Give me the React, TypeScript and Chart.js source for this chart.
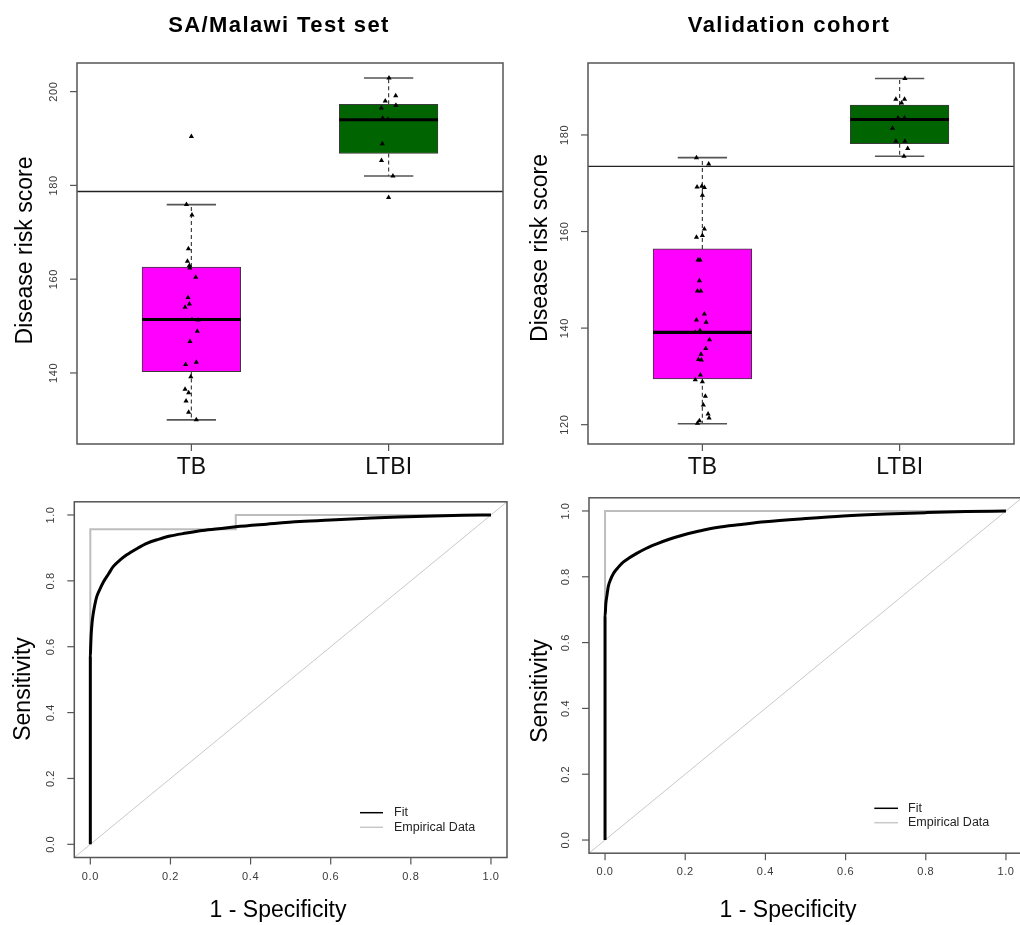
import React, { useEffect, useRef } from 'react';
import { Chart, registerables } from 'chart.js';

Chart.register(...registerables);

// ---------------- DATA ----------------
const categories = ['TB', 'LTBI'];
const categoryPositions = [1, 2];
const boxColors = ['#FF00FF', '#006400'];

// SA/Malawi Test set (box plot)
const testLowerWhisker = [130.0, 182.0];
const testQ1 = [140.3, 186.8];
const testMedian = [151.4, 194.0];
const testQ3 = [162.6, 197.3];
const testUpperWhisker = [175.9, 202.9];
const testCutoff = 178.7;
const testYTicks = [140, 160, 180, 200];
const testTBScores = [190.4, 175.9, 173.7, 166.5, 163.8, 162.9, 162.4, 160.4, 156.1, 154.7, 154.0, 151.4, 151.3, 148.9, 146.7, 141.8, 142.3, 139.2, 136.5, 135.8, 134.0, 131.6, 130.0];
const testTBJitter = [0.0, -0.025, 0.003, -0.015, -0.02, -0.01, -0.008, 0.022, -0.017, -0.01, -0.032, 0.003, 0.034, 0.03, -0.007, -0.029, 0.025, -0.003, -0.032, -0.014, -0.027, -0.014, 0.025];
const testLTBIScores = [202.9, 199.1, 198.0, 197.1, 196.5, 194.3, 194.1, 188.9, 185.3, 182.0, 177.4];
const testLTBIJitter = [0.002, 0.036, -0.017, 0.037, -0.037, -0.03, -0.003, -0.032, -0.036, 0.022, 0.0];

// Validation cohort (box plot)
const validLowerWhisker = [120.2, 175.6];
const validQ1 = [129.5, 178.2];
const validMedian = [139.1, 183.2];
const validQ3 = [156.4, 186.2];
const validUpperWhisker = [175.3, 191.7];
const validCutoff = 173.5;
const validYTicks = [120, 140, 160, 180];
const validTBScores = [175.3, 174.0, 169.2, 169.4, 169.1, 167.5, 160.5, 159.2, 158.8, 154.1, 154.1, 149.8, 147.7, 147.7, 142.9, 141.7, 141.2, 139.1, 139.5, 137.6, 135.8, 134.6, 133.5, 133.4, 130.3, 129.3, 128.9, 125.9, 124.1, 122.2, 121.4, 120.8, 120.3];
const validTBJitter = [-0.03, 0.032, -0.027, -0.003, 0.01, 0.0, 0.01, 0.0, -0.03, -0.022, -0.012, -0.015, -0.025, -0.008, 0.01, -0.03, 0.019, -0.036, -0.012, 0.036, 0.017, -0.007, -0.02, -0.005, -0.01, -0.036, 0.0, 0.015, 0.005, 0.029, 0.034, -0.015, -0.025];
const validLTBIScores = [191.7, 187.4, 187.4, 186.6, 183.5, 183.5, 181.4, 178.7, 178.7, 177.2, 175.6];
const validLTBIJitter = [0.027, -0.019, 0.025, 0.01, -0.008, 0.025, -0.036, -0.019, 0.027, 0.041, 0.022];

// ROC curves
const rocTicks = [0, 0.2, 0.4, 0.6, 0.8, 1.0];
const rocTickLabels = ['0.0', '0.2', '0.4', '0.6', '0.8', '1.0'];
const rocLegendLabels = ['Fit', 'Empirical Data'];

const testFitFpr = [0, 0, 0.001, 0.002, 0.004, 0.006, 0.01, 0.016, 0.024, 0.033, 0.045, 0.057, 0.073, 0.091, 0.115, 0.141, 0.17, 0.199, 0.24, 0.274, 0.32, 0.363, 0.44, 0.523, 0.6, 0.69, 0.77, 0.856, 0.93, 1.0];
const testFitTpr = [0, 0.57, 0.605, 0.635, 0.668, 0.69, 0.72, 0.752, 0.775, 0.797, 0.82, 0.843, 0.862, 0.879, 0.897, 0.914, 0.926, 0.936, 0.945, 0.952, 0.958, 0.964, 0.972, 0.98, 0.985, 0.99, 0.994, 0.997, 0.999, 1.0];
const testEmpFpr = [0, 0, 0.363, 0.363, 1];
const testEmpTpr = [0, 0.957, 0.957, 1, 1];

const validFitFpr = [0, 0, 0.002, 0.005, 0.008, 0.014, 0.021, 0.031, 0.042, 0.059, 0.079, 0.102, 0.129, 0.16, 0.195, 0.235, 0.279, 0.34, 0.399, 0.5, 0.594, 0.7, 0.802, 0.9, 1.0];
const validFitTpr = [0, 0.679, 0.719, 0.745, 0.77, 0.792, 0.81, 0.826, 0.841, 0.856, 0.871, 0.886, 0.9, 0.914, 0.927, 0.939, 0.95, 0.959, 0.967, 0.977, 0.985, 0.991, 0.995, 0.998, 1.0];
const validEmpFpr = [0, 0, 1];
const validEmpTpr = [0, 1, 1];

// ---------------- LAYOUT / STYLE ----------------
const W = 1024;
const H = 925;
const FONT = '"Liberation Sans", Arial, Helvetica, sans-serif';
const BOX_X_MIN = 0.42;
const BOX_X_MAX = 2.58;
const ROC_MIN = -0.04;
const ROC_MAX = 1.04;
const TICK_LABEL_COLOR = '#3a3a3a';

type Area = { left: number; top: number; right: number; bottom: number };
type Txt = {
  text: string; x: number; y: number; size: number; bold?: boolean; rotate?: boolean;
  spacing?: number; color?: string; align?: CanvasTextAlign; baseline?: CanvasTextBaseline;
};

function drawText(ctx: CanvasRenderingContext2D, t: Txt) {
  ctx.save();
  ctx.font = `${t.bold ? 'bold ' : ''}${t.size}px ${FONT}`;
  ctx.fillStyle = t.color || '#000';
  ctx.textAlign = t.align || 'center';
  ctx.textBaseline = t.baseline || 'alphabetic';
  (ctx as any).letterSpacing = `${t.spacing || 0}px`;
  ctx.translate(t.x, t.y);
  if (t.rotate) ctx.rotate(-Math.PI / 2);
  ctx.fillText(t.text, 0, 0);
  ctx.restore();
}

type FrameCfg = {
  yTicks: number[]; yTickLabels: string[];
  xTicks: number[]; xTickLabels: string[];
  xLabelSize: number; xLabelY: number; xLabelBaseline: CanvasTextBaseline; xLabelColor: string; xLabelSpacing: number;
  texts: Txt[];
  legend?: { lineX1: number; lineX2: number; textX: number; y: number[]; labels: string[]; colors: string[] };
};

function framePlugin(id: string, cfg: FrameCfg) {
  return {
    id,
    afterDatasetsDraw(chart: any) {
      const ctx: CanvasRenderingContext2D = chart.ctx;
      const a = chart.chartArea;
      const xs = chart.scales.x;
      const ys = chart.scales.y;
      ctx.save();
      ctx.strokeStyle = '#555';
      ctx.lineWidth = 1.5;
      ctx.strokeRect(a.left, a.top, a.right - a.left, a.bottom - a.top);
      ctx.lineWidth = 1.2;
      cfg.yTicks.forEach((v, i) => {
        const py = ys.getPixelForValue(v);
        ctx.beginPath();
        ctx.moveTo(a.left, py);
        ctx.lineTo(a.left - 7, py);
        ctx.stroke();
        drawText(ctx, { text: cfg.yTickLabels[i], x: a.left - 23, y: py, size: 11, rotate: true, color: TICK_LABEL_COLOR, baseline: 'middle', spacing: 0.6 });
      });
      cfg.xTicks.forEach((v, i) => {
        const px = xs.getPixelForValue(v);
        ctx.beginPath();
        ctx.moveTo(px, a.bottom);
        ctx.lineTo(px, a.bottom + 7);
        ctx.stroke();
        drawText(ctx, { text: cfg.xTickLabels[i], x: px, y: cfg.xLabelY, size: cfg.xLabelSize, color: cfg.xLabelColor, baseline: cfg.xLabelBaseline, spacing: cfg.xLabelSpacing });
      });
      cfg.texts.forEach((t) => drawText(ctx, t));
      if (cfg.legend) {
        const lg = cfg.legend;
        lg.labels.forEach((lab, i) => {
          ctx.strokeStyle = lg.colors[i];
          ctx.lineWidth = 1.5;
          ctx.beginPath();
          ctx.moveTo(lg.lineX1, lg.y[i]);
          ctx.lineTo(lg.lineX2, lg.y[i]);
          ctx.stroke();
          drawText(ctx, { text: lab, x: lg.textX, y: lg.y[i], size: 12.5, align: 'left', baseline: 'middle', color: '#222' });
        });
      }
      ctx.restore();
    },
  };
}

function padding(area: Area) {
  return { left: area.left, top: area.top, right: W - area.right, bottom: H - area.bottom };
}

function seg(x1: number, y1: number, x2: number, y2: number, style: any) {
  return {
    type: 'scatter',
    showLine: true,
    data: [{ x: x1, y: y1 }, { x: x2, y: y2 }],
    pointRadius: 0,
    pointHoverRadius: 0,
    ...style,
  };
}

type BoxPanel = {
  id: string; area: Area; yMin: number; yMax: number;
  lower: number[]; q1: number[]; median: number[]; q3: number[]; upper: number[];
  cutoff: number; yTicks: number[];
  tbScores: number[]; tbJitter: number[]; ltbiScores: number[]; ltbiJitter: number[];
  texts: Txt[];
};

function boxConfig(p: BoxPanel) {
  const pxPerUnit = (p.area.right - p.area.left) / (BOX_X_MAX - BOX_X_MIN);
  const datasets: any[] = [];
  datasets.push({
    type: 'bar',
    label: 'box',
    data: categoryPositions.map((x, i) => ({ x, y: [p.q1[i], p.q3[i]] })),
    backgroundColor: boxColors,
    borderColor: '#3a3a3a',
    borderWidth: 1,
    borderSkipped: false,
    barThickness: 0.5 * pxPerUnit,
    order: 6,
  });
  const whisk = { borderColor: '#444', borderWidth: 1.2, borderDash: [4, 3], order: 5 };
  const cap = { borderColor: '#555', borderWidth: 1.6, order: 4 };
  const med = { borderColor: '#000', borderWidth: 3.2, order: 2 };
  categoryPositions.forEach((x, i) => {
    datasets.push(seg(x, p.q3[i], x, p.upper[i], whisk));
    datasets.push(seg(x, p.q1[i], x, p.lower[i], whisk));
    datasets.push(seg(x - 0.125, p.upper[i], x + 0.125, p.upper[i], cap));
    datasets.push(seg(x - 0.125, p.lower[i], x + 0.125, p.lower[i], cap));
    datasets.push(seg(x - 0.25, p.median[i], x + 0.25, p.median[i], med));
  });
  datasets.push(seg(BOX_X_MIN, p.cutoff, BOX_X_MAX, p.cutoff, { borderColor: '#222', borderWidth: 1.3, order: 3 }));
  const pts = [
    ...p.tbScores.map((y, k) => ({ x: categoryPositions[0] + p.tbJitter[k], y })),
    ...p.ltbiScores.map((y, k) => ({ x: categoryPositions[1] + p.ltbiJitter[k], y })),
  ];
  datasets.push({
    type: 'scatter',
    label: 'scores',
    data: pts,
    pointStyle: 'triangle',
    pointRadius: 3,
    pointHoverRadius: 3,
    backgroundColor: '#000',
    borderColor: '#000',
    borderWidth: 0,
    showLine: false,
    order: 1,
  });
  return {
    type: 'scatter',
    data: { datasets },
    options: {
      responsive: false,
      animation: false,
      events: [],
      layout: { padding: padding(p.area) },
      plugins: { legend: { display: false }, tooltip: { enabled: false }, title: { display: false } },
      scales: {
        x: { type: 'linear', min: BOX_X_MIN, max: BOX_X_MAX, offset: false, display: false },
        y: { type: 'linear', min: p.yMin, max: p.yMax, display: false },
      },
    },
    plugins: [
      framePlugin('frame_' + p.id, {
        yTicks: p.yTicks,
        yTickLabels: p.yTicks.map(String),
        xTicks: categoryPositions,
        xTickLabels: categories,
        xLabelSize: 23,
        xLabelY: p.area.bottom + 30,
        xLabelBaseline: 'alphabetic',
        xLabelColor: '#111',
        xLabelSpacing: 0,
        texts: p.texts,
      }),
    ],
  };
}

type RocPanel = {
  id: string; area: Area;
  fitFpr: number[]; fitTpr: number[]; empFpr: number[]; empTpr: number[];
  texts: Txt[];
  legend: { lineX1: number; lineX2: number; textX: number; y: number[] };
};

function rocConfig(p: RocPanel) {
  const datasets: any[] = [
    seg(ROC_MIN, ROC_MIN, ROC_MAX, ROC_MAX, { label: 'chance', borderColor: '#c8c8c8', borderWidth: 1, order: 3 }),
    {
      type: 'scatter', label: rocLegendLabels[1], showLine: true,
      data: p.empFpr.map((x, i) => ({ x, y: p.empTpr[i] })),
      borderColor: '#bdbdbd', borderWidth: 2, pointRadius: 0, order: 2,
    },
    {
      type: 'scatter', label: rocLegendLabels[0], showLine: true,
      data: p.fitFpr.map((x, i) => ({ x, y: p.fitTpr[i] })),
      borderColor: '#000', borderWidth: 3, borderJoinStyle: 'round',
      cubicInterpolationMode: 'monotone', pointRadius: 0, order: 1,
    },
  ];
  return {
    type: 'scatter',
    data: { datasets },
    options: {
      responsive: false,
      animation: false,
      events: [],
      layout: { padding: padding(p.area) },
      plugins: { legend: { display: false }, tooltip: { enabled: false }, title: { display: false } },
      scales: {
        x: { type: 'linear', min: ROC_MIN, max: ROC_MAX, display: false },
        y: { type: 'linear', min: ROC_MIN, max: ROC_MAX, display: false },
      },
    },
    plugins: [
      framePlugin('frame_' + p.id, {
        yTicks: rocTicks,
        yTickLabels: rocTickLabels,
        xTicks: rocTicks,
        xTickLabels: rocTickLabels,
        xLabelSize: 11,
        xLabelY: p.area.bottom + 19,
        xLabelBaseline: 'middle',
        xLabelColor: TICK_LABEL_COLOR,
        xLabelSpacing: 0.6,
        texts: p.texts,
        legend: { ...p.legend, labels: rocLegendLabels, colors: ['#000', '#c8c8c8'] },
      }),
    ],
  };
}

const panelTestBox: BoxPanel = {
  id: 'testBox',
  area: { left: 77, top: 63, right: 503, bottom: 444 },
  yMin: 124.85, yMax: 206.1,
  lower: testLowerWhisker, q1: testQ1, median: testMedian, q3: testQ3, upper: testUpperWhisker,
  cutoff: testCutoff, yTicks: testYTicks,
  tbScores: testTBScores, tbJitter: testTBJitter, ltbiScores: testLTBIScores, ltbiJitter: testLTBIJitter,
  texts: [
    { text: 'SA/Malawi Test set', x: 279, y: 31.7, size: 22, bold: true, spacing: 1.4 },
    { text: 'Disease risk score', x: 31.7, y: 250.5, size: 23, rotate: true },
  ],
};

const panelValidBox: BoxPanel = {
  id: 'validBox',
  area: { left: 588, top: 63, right: 1014, bottom: 444 },
  yMin: 116.0, yMax: 194.9,
  lower: validLowerWhisker, q1: validQ1, median: validMedian, q3: validQ3, upper: validUpperWhisker,
  cutoff: validCutoff, yTicks: validYTicks,
  tbScores: validTBScores, tbJitter: validTBJitter, ltbiScores: validLTBIScores, ltbiJitter: validLTBIJitter,
  texts: [
    { text: 'Validation cohort', x: 789, y: 31.7, size: 22, bold: true, spacing: 1.4 },
    { text: 'Disease risk score', x: 546.7, y: 248, size: 23, rotate: true },
  ],
};

const panelTestRoc: RocPanel = {
  id: 'testRoc',
  area: { left: 74.3, top: 501.8, right: 507, bottom: 857.5 },
  fitFpr: testFitFpr, fitTpr: testFitTpr, empFpr: testEmpFpr, empTpr: testEmpTpr,
  texts: [
    { text: 'Sensitivity', x: 30, y: 689, size: 23, rotate: true },
    { text: '1 - Specificity', x: 278, y: 916.7, size: 23 },
  ],
  legend: { lineX1: 360, lineX2: 383, textX: 394, y: [812.7, 827.3] },
};

const panelValidRoc: RocPanel = {
  id: 'validRoc',
  area: { left: 589, top: 497.8, right: 1022, bottom: 853.2 },
  fitFpr: validFitFpr, fitTpr: validFitTpr, empFpr: validEmpFpr, empTpr: validEmpTpr,
  texts: [
    { text: 'Sensitivity', x: 547, y: 691, size: 23, rotate: true },
    { text: '1 - Specificity', x: 788, y: 916.7, size: 23 },
  ],
  legend: { lineX1: 874.3, lineX2: 898, textX: 908, y: [808.3, 822.7] },
};

function ChartLayer({ build }: { build: () => any }) {
  const ref = useRef<HTMLCanvasElement>(null);
  useEffect(() => {
    if (!ref.current) return;
    const chart = new Chart(ref.current, build());
    return () => chart.destroy();
  }, []);
  return (
    <canvas
      ref={ref}
      width={W}
      height={H}
      style={{ position: 'absolute', left: 0, top: 0, width: W, height: H }}
    />
  );
}

export default function App() {
  return (
    <div
      style={{
        position: 'fixed',
        left: 0,
        top: 0,
        width: 1020,
        height: 925,
        overflow: 'hidden',
        background: '#ffffff',
      }}
    >
      <ChartLayer build={() => boxConfig(panelTestBox)} />
      <ChartLayer build={() => boxConfig(panelValidBox)} />
      <ChartLayer build={() => rocConfig(panelTestRoc)} />
      <ChartLayer build={() => rocConfig(panelValidRoc)} />
    </div>
  );
}
